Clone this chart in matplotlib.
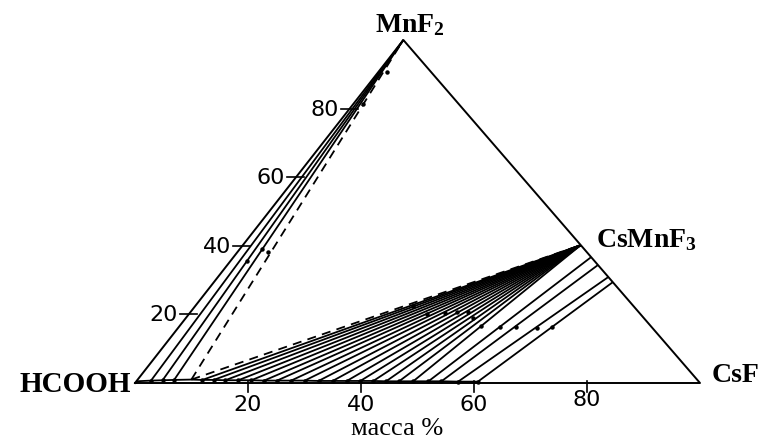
import numpy as np
import matplotlib
matplotlib.use("Agg")
import matplotlib.pyplot as plt

plt.rcParams['mathtext.fontset'] = 'custom'
plt.rcParams['mathtext.rm'] = 'Liberation Serif:bold'
plt.rcParams['mathtext.bf'] = 'Liberation Serif:bold'
plt.rcParams['mathtext.it'] = 'Liberation Serif:bold:italic'

# data: compositions as (CsF mass %, MnF2 mass %)
csf_ticks = [20, 40, 60, 80]
mnf2_ticks = [20, 40, 60, 80]

csmnf3 = (59.8, 40.2)
eutonic = (9.5, 1.0)

# liquids in equilibrium with MnF2
liq_mnf2_csf = [2.5, 4.5, 6.5]
liq_mnf2_mn = [0.7, 0.8, 0.9]

# liquids in equilibrium with CsMnF3
liq_cs_csf = [11.5, 13.5, 15.6, 17.9, 20.2, 22.5, 24.8, 27.3, 29.7,
              32.2, 34.7, 37.2, 39.6, 41.9, 44.2, 46.5, 49.0]
liq_cs_mn = [0.9, 0.9, 0.8, 0.8, 0.8, 0.7, 0.7, 0.7, 0.7,
             0.6, 0.6, 0.6, 0.6, 0.6, 0.5, 0.5, 0.5]

# CsF-rich side: liquid and solid ends
liq_ss_csf = [51.7, 54.0, 57.0, 60.5]
liq_ss_mn = [0.5, 0.5, 0.4, 0.4]
sol_ss_csf = [63.3, 65.6, 69.1, 70.6]
sol_ss_mn = [36.7, 34.4, 30.9, 29.4]

# wet residues
wet_csf = [38.6, 42.2, 45.2, 47.2, 49.1, 50.8, 53.3, 56.9, 59.7, 63.6, 66.1,
           2.9, 3.9, 5.4, 1.8, 1.5]
wet_mn = [22.4, 20.1, 20.4, 20.7, 20.7, 19.0, 16.6, 16.3, 16.3, 16.0, 16.3,
          35.6, 39.1, 38.2, 81.3, 90.7]

SKEW = 0.475


def tern(b, c):
    b = np.asarray(b, dtype=float)
    c = np.asarray(c, dtype=float)
    return b + SKEW * c, c


fig = plt.figure(figsize=(7.63, 4.39), dpi=100)
ax = fig.add_axes([135 / 763, 55 / 439, 565 / 763, 343 / 439])
ax.set_xlim(0, 100)
ax.set_ylim(0, 100)
ax.axis('off')

lw = 1.3
kw = dict(color='black', lw=lw, clip_on=False, solid_capstyle='butt')
dash = dict(color='black', lw=1.3, ls=(0, (5, 3.5)), clip_on=False)

# triangle
tx, ty = tern([0, 100, 0, 0], [0, 0, 100, 0])
ax.plot(tx, ty, color='black', lw=1.4, clip_on=False)

# solubility curve along the base
sb = [0] + liq_mnf2_csf + [eutonic[0]] + liq_cs_csf + liq_ss_csf
sc = [0.5] + liq_mnf2_mn + [eutonic[1]] + liq_cs_mn + liq_ss_mn
sx, sy = tern(sb, sc)
ax.plot(sx, sy, **kw)

# tie lines to MnF2
for b, c in zip(liq_mnf2_csf, liq_mnf2_mn):
    x, y = tern([b, 0], [c, 100])
    ax.plot(x, y, **kw)

# tie lines to CsMnF3
for b, c in zip(liq_cs_csf, liq_cs_mn):
    x, y = tern([b, csmnf3[0]], [c, csmnf3[1]])
    ax.plot(x, y, **kw)

# CsF-rich tie lines
for b1, c1, b2, c2 in zip(liq_ss_csf, liq_ss_mn, sol_ss_csf, sol_ss_mn):
    x, y = tern([b1, b2], [c1, c2])
    ax.plot(x, y, **kw)

# dashed boundaries of three-phase triangle
x, y = tern([eutonic[0], 0], [eutonic[1], 100])
ax.plot(x, y, **dash)
x, y = tern([eutonic[0], csmnf3[0]], [eutonic[1], csmnf3[1]])
ax.plot(x, y, **dash)

# liquid points and wet residues
lx, ly = tern(liq_mnf2_csf + liq_cs_csf + liq_ss_csf, liq_mnf2_mn + liq_cs_mn + liq_ss_mn)
ax.plot(lx, ly, 'o', color='black', ms=2.2, clip_on=False)
wx, wy = tern(wet_csf, wet_mn)
ax.plot(wx, wy, 'o', color='black', ms=2.2, clip_on=False)

# bottom ticks (CsF)
for t in csf_ticks:
    ax.plot([t, t], [0.6, -2.7], color='black', lw=1.2, clip_on=False)
    ty_lab = -1.7 if t == 80 else -3.2
    ax.text(t, ty_lab, str(t), ha='center', va='top', fontsize=16,
            family='DejaVu Sans')

# left ticks (MnF2)
for t in mnf2_ticks:
    xe = SKEW * t
    ax.plot([xe - 1.6, xe + 1.4], [t, t], color='black', lw=1.2, clip_on=False)
    ax.text(xe - 2.0, t, str(t), ha='right', va='center', fontsize=16,
            family='DejaVu Sans')

# component labels
ax.text(48.7, 102.6, r'$\mathrm{MnF_2}$', ha='center', va='baseline', fontsize=20)
ax.text(81.6, 39.9, r'$\mathrm{CsMnF_3}$', ha='left', va='baseline', fontsize=20)
ax.text(102.1, 0.6, 'CsF', ha='left', va='baseline', fontsize=20,
        family='Liberation Serif', weight='bold')
ax.text(-0.7, -2.3, 'HCOOH', ha='right', va='baseline', fontsize=21,
        family='Liberation Serif', weight='bold')
ax.text(46.4, -14.9, 'масса %', ha='center', va='baseline', fontsize=19,
        family='Liberation Serif')

fig.savefig('out.png', dpi=100)
